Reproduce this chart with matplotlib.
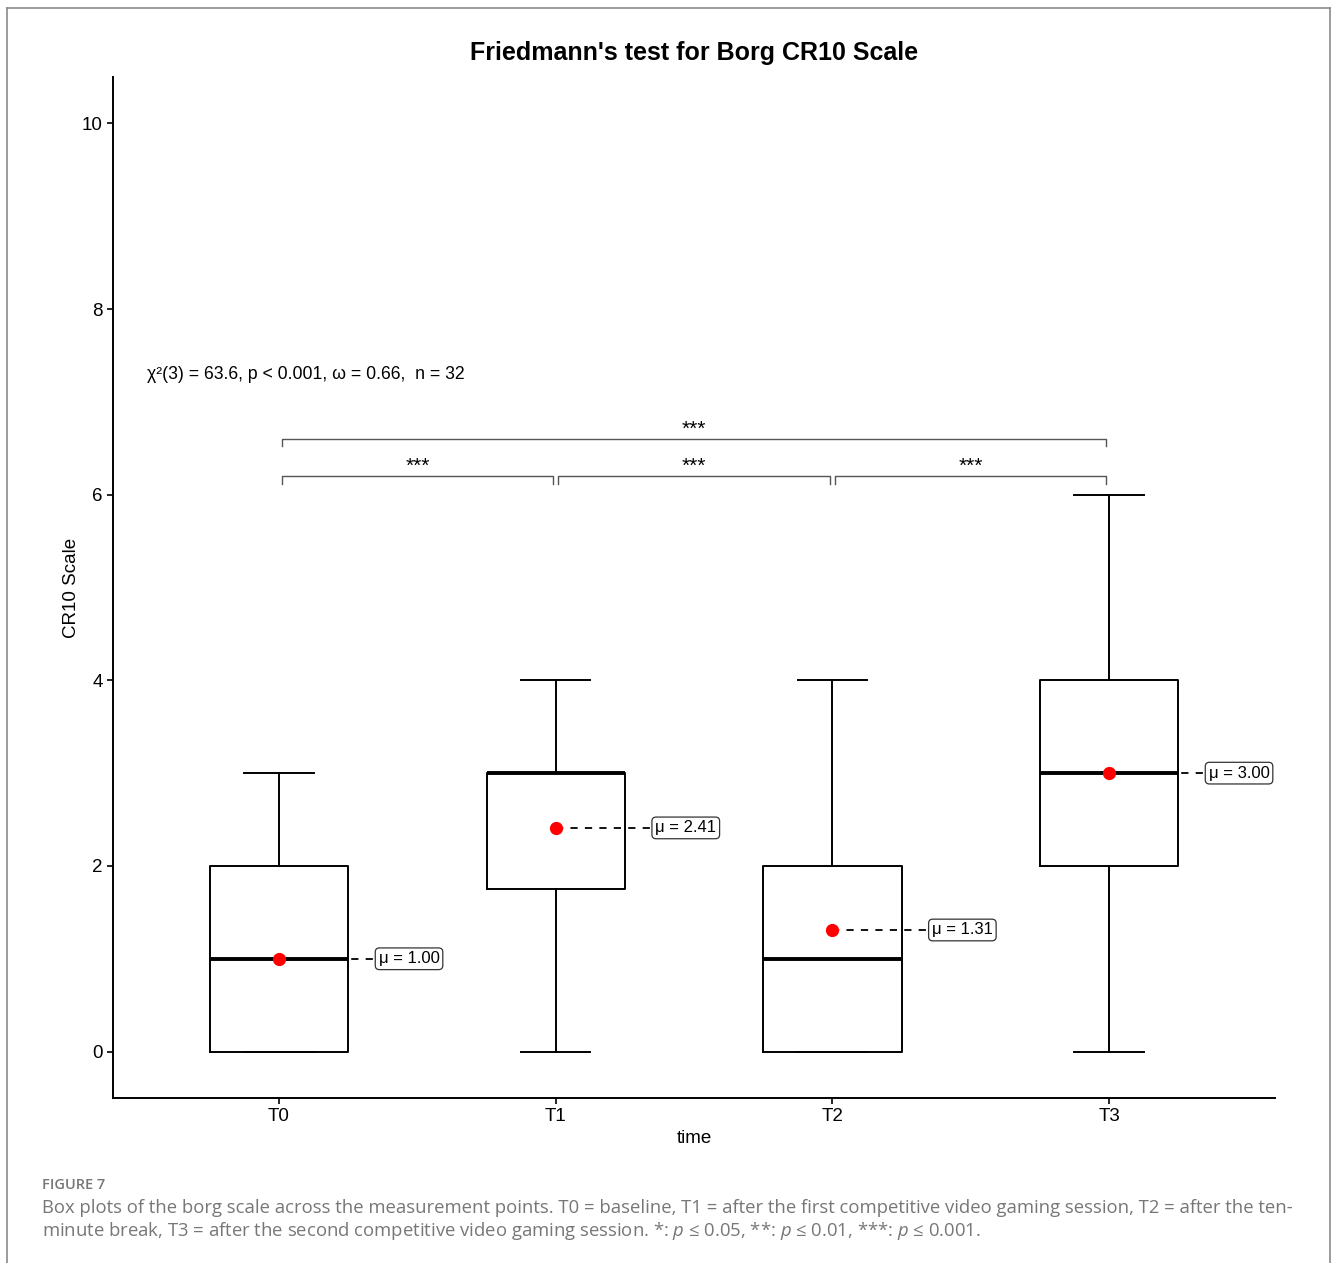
import matplotlib
matplotlib.use("Agg")
import matplotlib.pyplot as plt
from matplotlib.lines import Line2D

plt.rcParams['font.family'] = ['Liberation Sans', 'DejaVu Sans']
plt.rcParams['mathtext.fontset'] = 'custom'
plt.rcParams['mathtext.rm'] = 'Open Sans'
plt.rcParams['mathtext.it'] = 'Open Sans:italic'

# ---- data ----
groups = ["T0", "T1", "T2", "T3"]
whis_lo = [0, 0, 0, 0]
q1 = [0, 1.75, 0, 2]
medians = [1, 3, 1, 3]
q3 = [2, 3, 2, 4]
whis_hi = [3, 4, 4, 6]
means = [1.00, 2.41, 1.31, 3.00]
mean_labels = ["μ = 1.00", "μ = 2.41", "μ = 1.31", "μ = 3.00"]
pairs = [(0, 1), (1, 2), (2, 3)]
pair_y = 6.2
wide_pair = (0, 3)
wide_y = 6.6
sig_label = "***"
stats_text = "χ²(3) = 63.6, p < 0.001, ω = 0.66,  n = 32"
title = "Friedmann's test for Borg CR10 Scale"
xlabel = "time"
ylabel = "CR10 Scale"
yticks = [0, 2, 4, 6, 8, 10]

fig = plt.figure(figsize=(13.33, 12.63), dpi=100)
ax = fig.add_axes([113/1333, 1 - 1098/1263, (1275-113)/1333, (1098-77)/1263])

positions = list(range(1, len(groups) + 1))
stats = []
for i in range(len(groups)):
    stats.append(dict(whislo=whis_lo[i], q1=q1[i], med=medians[i], q3=q3[i],
                      whishi=whis_hi[i], fliers=[], label=groups[i]))
ax.bxp(stats, positions=positions, widths=0.5, showfliers=False,
       boxprops=dict(color='black', linewidth=1.4),
       whiskerprops=dict(color='black', linewidth=1.4),
       capprops=dict(color='black', linewidth=1.4),
       medianprops=dict(color='black', linewidth=2.8),
       capwidths=0.25)

for p, m, lab in zip(positions, means, mean_labels):
    ax.plot([p, p + 0.35], [m, m], ls=(0, (4, 4)), color='black', lw=1.3, zorder=3)
    ax.plot(p, m, 'o', color='#ff0000', ms=8.5, zorder=4)
    ax.text(p + 0.36, m, lab, ha='left', va='center', fontsize=12, zorder=5,
            bbox=dict(boxstyle='round,pad=0.2,rounding_size=0.25', fc='white',
                      ec='#333333', lw=0.9))

def bracket(a, b, y, label):
    x0 = positions[a] + 0.01
    x1 = positions[b] - 0.01
    ax.plot([x0, x0, x1, x1], [y - 0.08, y, y, y - 0.08], color='#555555', lw=1.0)
    ax.text((x0 + x1) / 2, y + 0.005, label, ha='center', va='bottom', fontsize=15)

for a, b in pairs:
    bracket(a, b, pair_y, sig_label)
bracket(wide_pair[0], wide_pair[1], wide_y, sig_label)

ax.text(0.523, 7.29, stats_text, ha='left', va='center', fontsize=12.7)

ax.set_xlim(0.4, 4.6)
ax.set_ylim(-0.5, 10.5)
ax.set_yticks(yticks)
ax.set_xticks(positions)
ax.set_xticklabels(groups)
ax.tick_params(labelsize=13.5, length=4, width=1.2, colors='black')
for s in ['top', 'right']:
    ax.spines[s].set_visible(False)
for s in ['left', 'bottom']:
    ax.spines[s].set_linewidth(1.4)
ax.set_xlabel(xlabel, fontsize=13.5, labelpad=3)
ax.set_ylabel(ylabel, fontsize=13.5, labelpad=1)
ax.set_title(title, fontsize=18, fontweight='bold', pad=12)

# frame
fc = '#8a8a8a'
fig.add_artist(Line2D([7/1333, 1330/1333], [1 - 8/1263, 1 - 8/1263], color=fc, lw=1.2))
fig.add_artist(Line2D([7/1333, 7/1333], [0, 1 - 8/1263], color=fc, lw=1.2))
fig.add_artist(Line2D([1330/1333, 1330/1333], [0, 1 - 8/1263], color=fc, lw=1.2))

cap_col = '#777777'
fig.text(42/1333, 1 - 1185/1263, "FIGURE 7", fontsize=10.5, color=cap_col,
         family='Open Sans', fontweight='semibold', va='center')
fig.text(42/1333, 1 - 1208/1263,
         "Box plots of the borg scale across the measurement points. T0 = baseline, T1 = after the first competitive video gaming session, T2 = after the ten-",
         fontsize=13.3, color=cap_col, family='Open Sans', va='center')
fig.text(42/1333, 1 - 1231/1263,
         r"minute break, T3 = after the second competitive video gaming session. *: $\it{p}$ ≤ 0.05, **: $\it{p}$ ≤ 0.01, ***: $\it{p}$ ≤ 0.001.",
         fontsize=13.3, color=cap_col, family='Open Sans', va='center')

fig.savefig("out.png", dpi=100)
